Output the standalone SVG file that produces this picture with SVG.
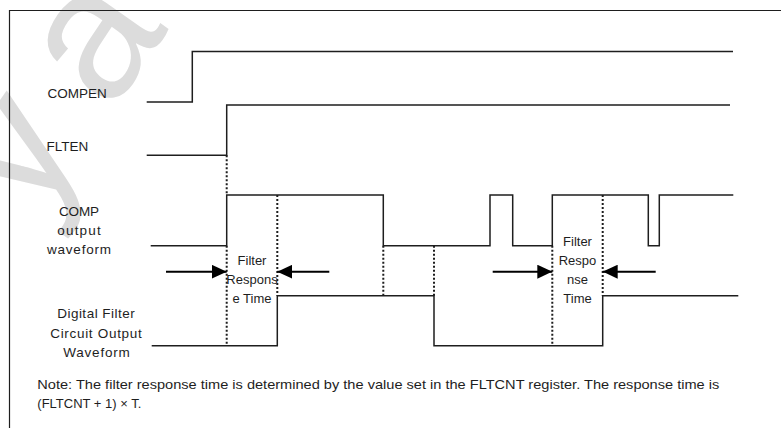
<svg xmlns="http://www.w3.org/2000/svg" width="781" height="428" viewBox="0 0 781 428">
  <defs>
    <style>
      .wave { fill: none; stroke: #1e1e1e; stroke-width: 1.5; }
      .frame { fill: none; stroke: #1e1e1e; stroke-width: 1.2; }
      .dash { fill: none; stroke: #1e1e1e; stroke-width: 2; stroke-dasharray: 2 2; }
      .arrow { fill: none; stroke: #000; stroke-width: 2; marker-end: url(#head); }
      .lbl { font-family: "Liberation Sans", Arial, sans-serif; font-size: 13.5px; fill: #1e1e1e; }
      .side { font-family: "Liberation Sans", Arial, sans-serif; font-size: 13.5px; fill: #1e1e1e; text-anchor: middle; }
      .tag { font-family: "Liberation Sans", Arial, sans-serif; font-size: 13px; fill: #1e1e1e; text-anchor: middle; }
      .note { font-family: "Liberation Sans", Arial, sans-serif; font-size: 13px; fill: #1e1e1e; }
      .mark { font-family: "Liberation Sans", Arial, sans-serif; font-size: 185px; fill: #dcdcdc; letter-spacing: 40px; }
    </style>
    <marker id="head" viewBox="0 0 15 14" refX="15" refY="7" markerWidth="15" markerHeight="14" markerUnits="userSpaceOnUse" orient="auto">
      <path d="M0,0 L15,7 L0,14 Z" fill="#000"/>
    </marker>
  </defs>

  <rect width="781" height="428" fill="#fff"/>

  <!-- background watermark -->
  <text class="mark" transform="translate(34,222) rotate(-55)">ya</text>

  <!-- outer frame (top and left edges) -->
  <path class="frame" d="M9.5,428 V10.5 H781"/>

  <!-- COMPEN -->
  <g id="compen">
    <text class="lbl" x="47.5" y="98">COMPEN</text>
    <path class="wave" d="M146.7,102 H192.3 V51.5 H733"/>
  </g>

  <!-- FLTEN -->
  <g id="flten">
    <text class="lbl" x="46.5" y="151">FLTEN</text>
    <path class="wave" d="M146.7,155.3 H226.7 V105 H730"/>
  </g>

  <!-- comparator output -->
  <g id="comp-output">
    <text class="side" x="79" y="215.5" textLength="40" lengthAdjust="spacing">COMP</text>
    <text class="side" x="79" y="234.5" textLength="43.4" lengthAdjust="spacing">output</text>
    <text class="side" x="79" y="253.5" textLength="64" lengthAdjust="spacing">waveform</text>
    <path class="wave" d="M150.7,245.7 H226.7 V195 H383.3 V245.7 H490 V195 H512.7 V245.7 H552.3 V195 H648.3 V245.7 H659.3 V195 H733.3"/>
  </g>

  <!-- digital filter circuit output -->
  <g id="filter-output">
    <text class="side" x="96" y="318" textLength="77.7" lengthAdjust="spacing">Digital Filter</text>
    <text class="side" x="96" y="337.5" textLength="91.5" lengthAdjust="spacing">Circuit Output</text>
    <text class="side" x="96.5" y="356.5" textLength="66.5" lengthAdjust="spacing">Waveform</text>
    <path class="wave" d="M151.7,345.7 H277.3 V295.7 H434 V345.7 H602.7 V295.7 H738.3"/>
  </g>

  <!-- response time labels -->
  <g id="response-1">
    <text class="tag" x="252" y="264.5">Filter</text>
    <text class="tag" x="252" y="283.5">Respons</text>
    <text class="tag" x="252" y="302.5">e Time</text>
  </g>
  <g id="response-2">
    <text class="tag" x="577.5" y="246">Filter</text>
    <text class="tag" x="577.5" y="265">Respo</text>
    <text class="tag" x="577.5" y="284">nse</text>
    <text class="tag" x="577.5" y="303">Time</text>
  </g>

  <!-- timing guides and arrows -->
  <g id="connectors">
    <path class="dash" d="M226.7,155.3 V195 M226.7,245.7 V345.7"/>
    <path class="dash" d="M277.3,195 V295.7"/>
    <path class="dash" d="M383.3,245.7 V295.7"/>
    <path class="dash" d="M434,245.7 V295.7"/>
    <path class="dash" d="M552.3,245.7 V345.7"/>
    <path class="dash" d="M602.7,195 V295.7"/>
    <path class="arrow" d="M166,271.7 H226.7"/>
    <path class="arrow" d="M329.3,271.7 H277.3"/>
    <path class="arrow" d="M492.7,271.7 H552.3"/>
    <path class="arrow" d="M655.7,271.7 H602.7"/>
  </g>

  <!-- note -->
  <text class="note" x="37.3" y="389" textLength="682" lengthAdjust="spacingAndGlyphs">Note: The filter response time is determined by the value set in the FLTCNT register. The response time is</text>
  <text class="note" x="37.3" y="408">(FLTCNT + 1) × T.</text>
</svg>
